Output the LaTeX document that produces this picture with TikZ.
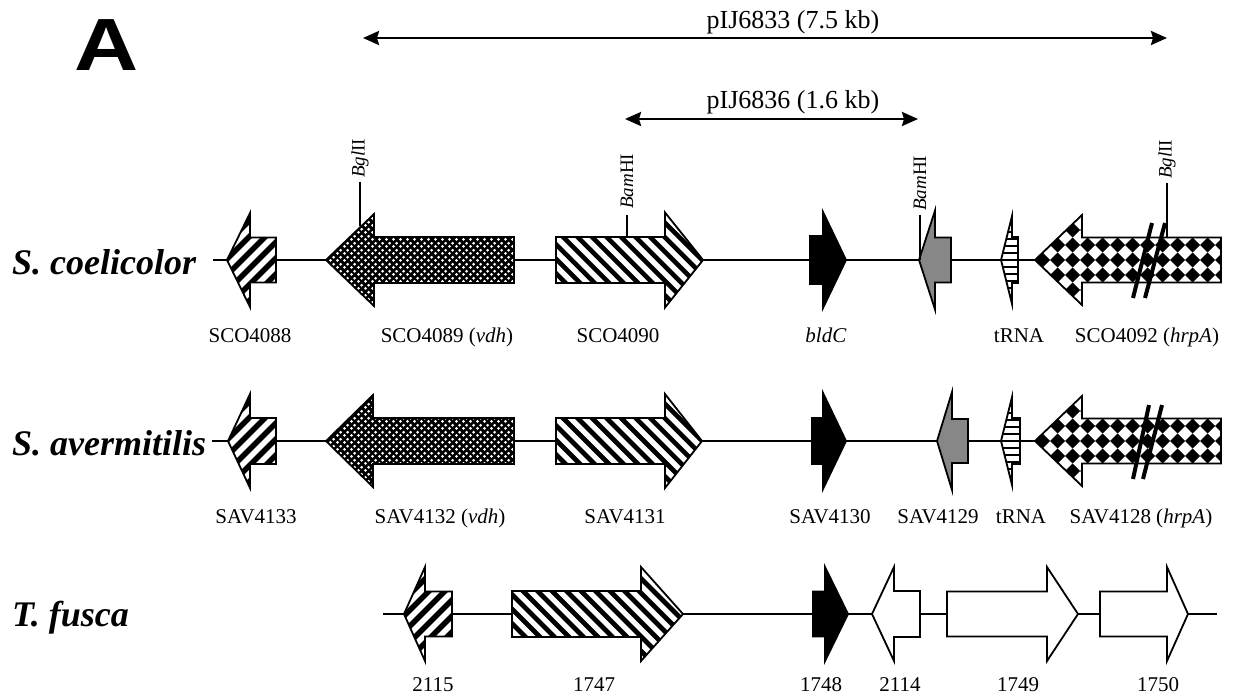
\documentclass[tikz,border=0pt]{standalone}
\usepackage{fontspec}
\setmainfont{Liberation Serif}
\newfontfamily\lsans{Liberation Sans}
\usetikzlibrary{arrows.meta,patterns}
\definecolor{geneGray}{RGB}{135,135,135}
\pgfdeclarepatternformonly{wdots}{\pgfpointorigin}{\pgfpoint{7pt}{7pt}}{\pgfpoint{7pt}{7pt}}{%
  \pgfpathcircle{\pgfpoint{1.75pt}{1.75pt}}{1.7pt}%
  \pgfpathcircle{\pgfpoint{5.25pt}{5.25pt}}{1.7pt}%
  \pgfusepath{fill}}
% gene pointing left: tip, head base, right end, y, body half, head half, fill code
\newcommand\Lgene[7]{%
  \begin{scope}
  \clip (#1,#4) -- (#2,#4-#6) -- (#2,#4-#5) -- (#3,#4-#5) -- (#3,#4+#5) -- (#2,#4+#5) -- (#2,#4+#6) -- cycle;
  #7
  \end{scope}
  \draw[gout] (#1,#4) -- (#2,#4-#6) -- (#2,#4-#5) -- (#3,#4-#5) -- (#3,#4+#5) -- (#2,#4+#5) -- (#2,#4+#6) -- cycle;}
% gene pointing right: left end, head base, tip, y, body half, head half, fill code
\newcommand\Rgene[7]{%
  \begin{scope}
  \clip (#3,#4) -- (#2,#4-#6) -- (#2,#4-#5) -- (#1,#4-#5) -- (#1,#4+#5) -- (#2,#4+#5) -- (#2,#4+#6) -- cycle;
  #7
  \end{scope}
  \draw[gout] (#3,#4) -- (#2,#4-#6) -- (#2,#4-#5) -- (#1,#4-#5) -- (#1,#4+#5) -- (#2,#4+#5) -- (#2,#4+#6) -- cycle;}
\newcommand\bgW{\fill[white] (-10,-10) rectangle (1250,710);}
\newcommand\bgK{\fill[black] (-10,-10) rectangle (1250,710);}
\newcommand\bgG{\fill[geneGray] (-10,-10) rectangle (1250,710);}
\newcommand\wdotsfill{\bgK\fill[pattern=wdots,pattern color=white] (-10,-10) rectangle (1250,710);}
\newcommand\stripesNE[4]{\bgW\foreach \k in {0,...,30}{\draw[line width=#4] ({#1+\k*#3-140},#2+70) -- ({#1+\k*#3},#2-70);}}
\newcommand\stripesNW[4]{\bgW\foreach \k in {0,...,30}{\draw[line width=#4] ({#1+\k*#3-140},#2-70) -- ({#1+\k*#3},#2+70);}}
\newcommand\hstripes[1]{\bgW\foreach \k in {-7,...,7}{\draw[line width=2.2] (990,{#1+\k*7}) -- (1030,{#1+\k*7});}}
\newcommand\checker[2]{\bgW\foreach \i in {0,...,14}{\foreach \j in {-3,...,3}{%
  \fill ({#1+\i*15},{#2+\j*15-7.5}) -- ({#1+\i*15+7.5},{#2+\j*15}) -- ({#1+\i*15},{#2+\j*15+7.5}) -- ({#1+\i*15-7.5},{#2+\j*15}) -- cycle;}}}
\begin{document}
\begin{tikzpicture}[x=1pt,y=-1pt,
  gout/.style={line width=1.8pt,line join=miter,miter limit=20,black},
  base/.style={line width=2pt},
  site/.style={line width=1.8pt},
  brk/.style={line width=4pt},
  dbl/.style={line width=2.7pt,{Stealth[length=16pt,width=14pt,inset=2pt]}-{Stealth[length=16pt,width=14pt,inset=2pt]}},
  lab/.style={font=\fontsize{21}{24}\selectfont,inner sep=0pt,anchor=base},
  toplab/.style={font=\fontsize{26}{30}\selectfont,inner sep=0pt,anchor=base},
  sp/.style={font=\fontsize{36}{40}\selectfont\bfseries\itshape,inner sep=0pt,anchor=base west},
  rs/.style={font=\fontsize{19}{22}\selectfont,inner sep=0pt,rotate=90,anchor=west}]
\useasboundingbox (0,0) rectangle (1234,696);

% panel letter
\node[font=\lsans\bfseries\fontsize{74}{74}\selectfont,xscale=1.2,inner sep=0pt] (panelA) at (107,45) {A};

% plasmid extents
\coordinate (p1L) at (363,38);
\coordinate (p1R) at (1167,38);
\coordinate (p2L) at (625,119);
\coordinate (p2R) at (918,119);
\draw[dbl] (p1L) -- (p1R);
\draw[dbl] (p2L) -- (p2R);
\node[toplab] (p1lab) at (793,28) {pIJ6833 (7.5 kb)};
\node[toplab] (p2lab) at (793,108) {pIJ6836 (1.6 kb)};

% species names
\node[sp] (sc) at (12,274) {S. coelicolor};
\node[sp] (sa) at (12,455) {S. avermitilis};
\node[sp] (tf) at (12,626) {T. fusca};

% ---------- row 1 : S. coelicolor ----------
\coordinate (r1a) at (213,260);
\coordinate (r1b) at (1222,260);
\draw[base] (r1a) -- (r1b);
\Lgene{227}{250}{276}{260}{22.5}{47}{\stripesNE{200}{260}{16}{5.5}}
\Lgene{326}{374}{514}{260}{23}{46}{\wdotsfill}
\Rgene{556}{665}{703}{260}{23}{47.5}{\stripesNW{540}{260}{14.5}{4.6}}
\Rgene{810}{823}{846}{260}{24}{48}{\bgK}
\Lgene{919}{935}{951}{260}{22.5}{49.5}{\bgG}
\Lgene{1001}{1012}{1018}{260}{23}{44}{\hstripes{260}}
\Lgene{1035}{1082}{1221}{260}{22.5}{45}{\checker{1027.5}{260}}
\draw[brk] (1133,298) -- (1152,223);
\draw[brk] (1145,298) -- (1165,223);
% restriction sites
\coordinate (s1a) at (360,182); \coordinate (s1b) at (360,226);
\coordinate (s2a) at (627,215); \coordinate (s2b) at (627,237);
\coordinate (s3a) at (920,215); \coordinate (s3b) at (920,260);
\coordinate (s4a) at (1167,183); \coordinate (s4b) at (1167,237);
\draw[site] (s1a) -- (s1b);
\draw[site] (s2a) -- (s2b);
\draw[site] (s3a) -- (s3b);
\draw[site] (s4a) -- (s4b);
\node[rs] (bgl1) at (360,178) {\textit{Bgl}II};
\node[rs] (bam1) at (627,209) {\textit{Bam}HI};
\node[rs] (bam2) at (920,211) {\textit{Bam}HI};
\node[rs] (bgl2) at (1167,179) {\textit{Bgl}II};
% labels
\node[lab] (l11) at (250,342) {SCO4088};
\node[lab] (l12) at (447,342) {SCO4089 (\textit{vdh})};
\node[lab] (l13) at (618,342) {SCO4090};
\node[lab] (l14) at (826,342) {\textit{bldC}};
\node[lab] (l15) at (1019,342) {tRNA};
\node[lab] (l16) at (1147,342) {SCO4092 (\textit{hrpA})};

% ---------- row 2 : S. avermitilis ----------
\coordinate (r2a) at (212,441);
\coordinate (r2b) at (1222,441);
\draw[base] (r2a) -- (r2b);
\Lgene{228}{250}{276}{441}{23}{47}{\stripesNE{200}{441}{16}{5.5}}
\Lgene{326}{373}{514}{441}{23}{46}{\wdotsfill}
\Rgene{556}{665}{702}{441}{23}{47}{\stripesNW{540}{441}{14.5}{4.6}}
\Rgene{812}{823}{846}{441}{23}{48}{\bgK}
\Lgene{937}{952}{968}{441}{22}{49}{\bgG}
\Lgene{1001}{1012}{1020}{441}{23}{44}{\hstripes{441}}
\Lgene{1035}{1082}{1221}{441}{22.5}{45}{\checker{1027.5}{441}}
\draw[brk] (1133,479) -- (1149,405);
\draw[brk] (1143,479) -- (1162,405);
\node[lab] (l21) at (256,523) {SAV4133};
\node[lab] (l22) at (440,523) {SAV4132 (\textit{vdh})};
\node[lab] (l23) at (625,523) {SAV4131};
\node[lab] (l24) at (830,523) {SAV4130};
\node[lab] (l25) at (938,523) {SAV4129};
\node[lab] (l26) at (1021,523) {tRNA};
\node[lab] (l27) at (1141,523) {SAV4128 (\textit{hrpA})};

% ---------- row 3 : T. fusca ----------
\coordinate (r3a) at (383,614);
\coordinate (r3b) at (1217,614);
\draw[base] (r3a) -- (r3b);
\Lgene{404}{425}{452}{614}{22.5}{47}{\stripesNE{380}{614}{16}{5.5}}
\Rgene{512}{641}{683}{614}{23}{47}{\stripesNW{500}{614}{14.5}{4.6}}
\Rgene{813}{825}{848}{614}{22.5}{47}{\bgK}
\Lgene{872}{894}{920}{614}{23}{47}{\bgW}
\Rgene{947}{1047}{1078}{614}{22.5}{47}{\bgW}
\Rgene{1100}{1167}{1188}{614}{22.5}{47}{\bgW}
\node[lab] (l31) at (433,691) {2115};
\node[lab] (l32) at (594,691) {1747};
\node[lab] (l33) at (821,691) {1748};
\node[lab] (l34) at (900,691) {2114};
\node[lab] (l35) at (1018,691) {1749};
\node[lab] (l36) at (1158,691) {1750};
\end{tikzpicture}
\end{document}
